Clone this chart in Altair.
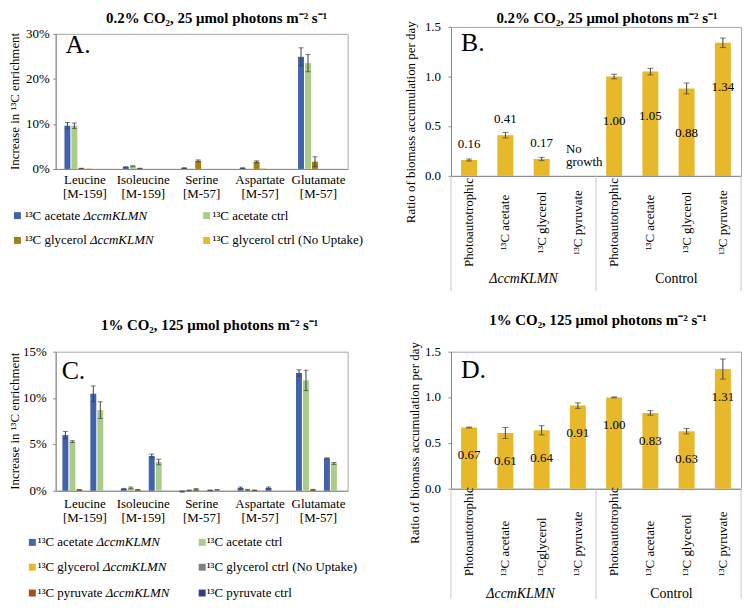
import altair as alt
import pandas as pd

FONT = "Liberation Serif"
FRAME = "#a6a6a6"
AXIS_GRAY = "#8a8a8a"
ERR = "#404040"
SEP = "#c8c8c8"
GOLD = "#e8b82b"

# ---------------- data ----------------
title_low_co2 = "0.2% CO₂, 25 μmol photons m⁻² s⁻¹"
title_high_co2 = "1% CO₂, 125 μmol photons m⁻² s⁻¹"

amino_acids = ["Leucine", "Isoleucine", "Serine", "Aspartate", "Glutamate"]
fragments = ["[M-159]", "[M-159]", "[M-57]", "[M-57]", "[M-57]"]

# Panel A: increase in 13C enrichment (%)
series_A = ["¹³C acetate ΔccmKLMN", "¹³C acetate ctrl", "¹³C glycerol ΔccmKLMN", "¹³C glycerol ctrl"]
colors_A = ["#4263ab", "#a9cd86", "#a48014", "#e9b92c"]
A_acetate_mut = [9.6, 0.4, 0.2, 0.2, 24.9]
A_acetate_mut_err = [0.7, 0.1, 0.05, 0.05, 2.0]
A_acetate_ctrl = [9.6, 0.6, 0.05, 0.05, 23.5]
A_acetate_ctrl_err = [0.6, 0.1, 0.0, 0.0, 1.9]
A_glycerol_mut = [0.1, 0.1, 1.8, 1.6, 1.6]
A_glycerol_mut_err = [0.05, 0.05, 0.2, 0.2, 1.1]
A_glycerol_ctrl = [0.1, 0.0, 0.0, 0.1, 0.0]
A_glycerol_ctrl_err = [0.0, 0.0, 0.0, 0.0, 0.0]

# Panel C: increase in 13C enrichment (%)
series_C = ["¹³C acetate ΔccmKLMN", "¹³C acetate ctrl", "¹³C glycerol ΔccmKLMN",
            "¹³C glycerol ctrl", "¹³C pyruvate ΔccmKLMN", "¹³C pyruvate ctrl"]
colors_C = ["#4466ae", "#a9cd86", "#e9b92c", "#808080", "#a64d1a", "#2f3e8c"]
C_acetate_mut = [6.0, 0.2, -0.1, 0.3, 12.7]
C_acetate_mut_err = [0.4, 0.05, 0.05, 0.1, 0.35]
C_acetate_ctrl = [5.3, 0.3, 0.05, 0.1, 11.9]
C_acetate_ctrl_err = [0.1, 0.1, 0.03, 0.05, 1.1]
C_glycerol_mut = [0.1, 0.1, 0.15, 0.05, 0.1]
C_glycerol_mut_err = [0.03, 0.03, 0.08, 0.03, 0.05]
C_glycerol_ctrl = [0.0, 0.0, 0.0, 0.0, 0.0]
C_glycerol_ctrl_err = [0.0, 0.0, 0.0, 0.0, 0.0]
C_pyruvate_mut = [10.45, 3.75, 0.05, 0.3, 3.5]
C_pyruvate_mut_err = [0.85, 0.2, 0.03, 0.1, 0.05]
C_pyruvate_ctrl = [8.7, 3.1, 0.1, 0.0, 2.95]
C_pyruvate_ctrl_err = [0.9, 0.3, 0.03, 0.0, 0.1]

legend_notes = {"¹³C glycerol ctrl": "   (No Uptake)"}
enrichment_title = "Increase in ¹³C enrichment"

# Panels B and D: ratio of biomass accumulation per day
strains = ["ΔccmKLMN", "Control"]
conditions_B = ["Photoautotrophic", "¹³C acetate", "¹³C glycerol", "¹³C pyruvate"]
conditions_D = ["Photoautotrophic", "¹³C acetate", "¹³Cglycerol", "¹³C pyruvate"]
conditions_ctrl = ["Photoautotrophic", "¹³C acetate", "¹³C glycerol", "¹³C pyruvate"]
B_ratio = [0.16, 0.41, 0.17, None, 1.00, 1.05, 0.88, 1.34]
B_err = [0.01, 0.028, 0.017, None, 0.023, 0.033, 0.055, 0.048]
D_ratio = [0.67, 0.61, 0.64, 0.91, 1.00, 0.83, 0.63, 1.31]
D_err = [0.005, 0.06, 0.05, 0.03, 0.005, 0.025, 0.03, 0.11]
no_growth_note = "No\ngrowth"
ratio_title = "Ratio of biomass accumulation per day"
ratio_ticks = [0.0, 0.5, 1.0, 1.5]

# ---------------- helpers ----------------
TIMES_W = {" ": 250, "a": 444, "c": 444, "e": 444, "t": 278, "g": 500, "l": 278,
           "y": 500, "r": 333, "o": 500, "p": 500, "u": 500, "v": 500, "C": 667,
           "¹": 300, "³": 300}


def text_w(s, size):
    return sum(TIMES_W.get(ch, 500) for ch in s) * size / 1000.0


def one_text(t):
    return pd.DataFrame({"t": [t]})


def txt(**kw):
    base = dict(font=FONT, fontSize=13, color="black")
    base.update(kw)
    return base


def legend_layers(series, colors, sq_x, txt_x, rows_y, size=13):
    layers = []
    for i, (s, col) in enumerate(zip(series, colors)):
        r, c = divmod(i, 2)
        plain, _, ital = s.partition("Δ")
        if ital:
            ital = "Δ" + ital
        else:
            plain = plain + legend_notes.get(s, "")
        y = rows_y[r]
        layers.append(alt.Chart(one_text(plain)).mark_square(size=49, opacity=1, color=col).encode(
            x=alt.value(sq_x[c]), y=alt.value(y)))
        layers.append(alt.Chart(one_text(plain)).mark_text(
            **txt(fontSize=size, align="left", baseline="middle")).encode(
            text="t:N", x=alt.value(txt_x[c]), y=alt.value(y)))
        if ital:
            layers.append(alt.Chart(one_text(ital)).mark_text(
                **txt(fontSize=size, align="left", baseline="middle", fontStyle="italic")).encode(
                text="t:N", x=alt.value(txt_x[c] + text_w(plain, size)), y=alt.value(y)))
    return layers


def letter_layer(letter, lx, ly):
    return alt.Chart(one_text(letter)).mark_text(
        **txt(fontSize=26, align="left", baseline="alphabetic")
    ).encode(text="t:N", x=alt.value(lx), y=alt.value(ly))


def y_title_layer(text, tx, ty):
    return alt.Chart(one_text(text)).mark_text(
        **txt(angle=270, align="center", baseline="middle")
    ).encode(text="t:N", x=alt.value(tx), y=alt.value(ty))


def make_title(text, offset, dx):
    return alt.TitleParams(text=text, font=FONT, fontSize=15, fontWeight="bold", anchor="middle",
                           frame="group", offset=offset, dx=dx, color="black")


def enrichment_panel(series, colors, values, errors, W, H, ymax, ystep, letter, letter_xy,
                     title, title_offset, title_dx, x_pad, sub_pad, x_label_y, y_title_x,
                     y_label_x, sq_x, txt_x, rows_y):
    cats = [f"{a}|{f}" for a, f in zip(amino_acids, fragments)]
    recs = []
    for s, vals, errs in zip(series, values, errors):
        for c, v, e in zip(cats, vals, errs):
            recs.append({"cat": c, "series": s, "value": v, "err": e, "lo": v - e, "hi": v + e})
    df = pd.DataFrame(recs)
    err_df = df[df["err"] > 0]
    cap_df = pd.concat([
        err_df[["cat", "series"]].assign(cap=err_df["lo"]),
        err_df[["cat", "series"]].assign(cap=err_df["hi"]),
    ])
    ticks = list(range(0, ymax + 1, ystep))
    tick_df = pd.DataFrame({"v": ticks, "t": [f"{t}%" for t in ticks]})
    cat_df = pd.DataFrame({"cat": cats})

    x_scale = alt.Scale(domain=cats, paddingInner=x_pad[0], paddingOuter=x_pad[1])
    x_axis = alt.Axis(title=None, labels=False, ticks=False)
    xo = alt.XOffset("series:N", scale=alt.Scale(domain=series, paddingInner=sub_pad))
    y_scale = alt.Scale(domain=[0, ymax], nice=False)
    y_axis = alt.Axis(title=None, labels=False, values=ticks, tickSize=3)

    def X():
        return alt.X("cat:N", scale=x_scale, axis=x_axis)

    def Y(field):
        return alt.Y(field, scale=y_scale, axis=y_axis)

    bars = alt.Chart(df).mark_bar().encode(
        x=X(), xOffset=xo, y=Y("value:Q"),
        color=alt.Color("series:N", scale=alt.Scale(domain=series, range=colors), legend=None),
    )
    rules = alt.Chart(err_df).mark_rule(color=ERR, strokeWidth=1).encode(
        x=X(), xOffset=xo, y=Y("lo:Q"), y2="hi:Q")
    caps = alt.Chart(cap_df).mark_tick(color=ERR, thickness=1, size=5).encode(
        x=X(), xOffset=xo, y=Y("cap:Q"))
    ylabels = alt.Chart(tick_df).mark_text(**txt(align="right", baseline="middle")).encode(
        y=Y("v:Q"), x=alt.value(y_label_x), text="t:N")
    xlabels = alt.Chart(cat_df).mark_text(
        **txt(align="center", baseline="top", lineBreak="|", lineHeight=14)).encode(
        x=X(), y=alt.value(H + x_label_y), text="cat:N")
    layers = [bars, rules, caps, ylabels, xlabels,
              y_title_layer(enrichment_title, y_title_x, H / 2),
              letter_layer(letter, *letter_xy)]
    layers += legend_layers(series, colors, sq_x, txt_x, rows_y)
    return alt.layer(*layers).properties(width=W, height=H,
                                         title=make_title(title, title_offset, title_dx))


def ratio_panel(values, errors, conds, W, H, letter, letter_xy, title, title_offset, title_dx,
                label_align, label_y, y_title_x, y_title_y, dy_mut, dy_ctrl, group_y, sep_len,
                group_dx=(0, 0), note=None):
    n = len(values)
    idx = list(range(n))
    labels = list(conds) + list(conditions_ctrl)
    df = pd.DataFrame({"idx": idx, "value": values, "err": errors,
                       "strain": [strains[0]] * 4 + [strains[1]] * 4})
    df = df.dropna(subset=["value"]).copy()
    df["lo"] = df["value"] - df["err"]
    df["hi"] = df["value"] + df["err"]
    df["label"] = df["value"].map(lambda v: f"{v:.2f}")
    cap_df = pd.concat([df[["idx"]].assign(cap=df["lo"]), df[["idx"]].assign(cap=df["hi"])])
    tick_df = pd.DataFrame({"v": ratio_ticks, "t": [f"{t:.1f}" for t in ratio_ticks]})
    cond_df = pd.DataFrame({"idx": idx, "t": labels})

    x_scale = alt.Scale(domain=idx, paddingInner=0.56, paddingOuter=0.28)
    x_axis = alt.Axis(title=None, labels=False, ticks=False)
    y_scale = alt.Scale(domain=[0, 1.5], nice=False)
    y_axis = alt.Axis(title=None, labels=False, values=ratio_ticks, tickSize=3)

    def X():
        return alt.X("idx:O", scale=x_scale, axis=x_axis)

    def Y(field):
        return alt.Y(field, scale=y_scale, axis=y_axis)

    bars = alt.Chart(df).mark_bar(color=GOLD).encode(x=X(), y=Y("value:Q"))
    rules = alt.Chart(df).mark_rule(color=ERR, strokeWidth=1).encode(
        x=X(), y=Y("lo:Q"), y2="hi:Q")
    caps = alt.Chart(cap_df).mark_tick(color=ERR, thickness=1, size=6).encode(
        x=X(), y=Y("cap:Q"))
    lab_mut = alt.Chart(df[df["strain"] == strains[0]]).mark_text(
        **txt(baseline="middle", dy=dy_mut)).encode(x=X(), y=Y("value:Q"), text="label:N")
    lab_ctrl = alt.Chart(df[df["strain"] == strains[1]]).mark_text(
        **txt(baseline="middle", dy=dy_ctrl)).encode(x=X(), y=Y("value:Q"), text="label:N")
    ylabels = alt.Chart(tick_df).mark_text(**txt(align="right", baseline="middle")).encode(
        y=Y("v:Q"), x=alt.value(-10), text="t:N")
    xlabels = alt.Chart(cond_df).mark_text(
        **txt(angle=270, align=label_align, baseline="middle")).encode(
        x=X(), y=alt.value(H + label_y), text="t:N")
    layers = [bars, rules, caps, lab_mut, lab_ctrl, ylabels, xlabels,
              y_title_layer(ratio_title, y_title_x, y_title_y)]
    for sx in (0, W / 2, W):
        layers.append(alt.Chart(one_text("")).mark_rule(color=SEP, strokeWidth=1).encode(
            x=alt.value(sx), y=alt.value(H), y2=alt.value(H + sep_len)))
    layers.append(alt.Chart(one_text(strains[0])).mark_text(
        **txt(fontSize=14, fontStyle="italic", baseline="middle")).encode(
        text="t:N", x=alt.value(W / 4 + group_dx[0]), y=alt.value(H + group_y)))
    layers.append(alt.Chart(one_text(strains[1])).mark_text(
        **txt(fontSize=14, baseline="middle")).encode(
        text="t:N", x=alt.value(3 * W / 4 + group_dx[1]), y=alt.value(H + group_y)))
    layers.append(letter_layer(letter, *letter_xy))
    if note:
        ndf = pd.DataFrame({"idx": [values.index(None)], "v": [0.0], "t": [note]})
        layers.append(alt.Chart(ndf).mark_text(
            **txt(align="left", baseline="bottom", dx=-12, dy=-20, lineBreak="\n",
                  lineHeight=13)).encode(x=X(), y=Y("v:Q"), text="t:N"))
    return alt.layer(*layers).properties(width=W, height=H,
                                         title=make_title(title, title_offset, title_dx))


# ---------------- panels ----------------
panel_A = enrichment_panel(
    series_A, colors_A,
    [A_acetate_mut, A_acetate_ctrl, A_glycerol_mut, A_glycerol_ctrl],
    [A_acetate_mut_err, A_acetate_ctrl_err, A_glycerol_mut_err, A_glycerol_ctrl_err],
    W=294, H=136, ymax=30, ystep=10, letter="A.", letter_xy=(10, 19),
    title=title_low_co2, title_offset=2, title_dx=15, x_pad=(0.3, 0.15), sub_pad=0.15,
    x_label_y=5, y_title_x=-41, y_label_x=-6,
    sq_x=(-38.5, 152), txt_x=(-31, 158), rows_y=(136 + 47, 136 + 72))

panel_C = enrichment_panel(
    series_C, colors_C,
    [C_acetate_mut, C_acetate_ctrl, C_glycerol_mut, C_glycerol_ctrl, C_pyruvate_mut, C_pyruvate_ctrl],
    [C_acetate_mut_err, C_acetate_ctrl_err, C_glycerol_mut_err, C_glycerol_ctrl_err,
     C_pyruvate_mut_err, C_pyruvate_ctrl_err],
    W=294, H=140, ymax=15, ystep=5, letter="C.", letter_xy=(6, 27),
    title=title_high_co2, title_offset=13, title_dx=8, x_pad=(0.23, 0.115), sub_pad=0.2,
    x_label_y=7, y_title_x=-41, y_label_x=-9,
    sq_x=(-23.5, 147.5), txt_x=(-18, 152), rows_y=(140 + 52, 140 + 77, 140 + 103))

panel_B = ratio_panel(
    B_ratio, B_err, conditions_B, W=292, H=150, letter="B.", letter_xy=(10, 24),
    title=title_low_co2, title_offset=-5, title_dx=11, label_align="center", label_y=47,
    y_title_x=-40, y_title_y=96, dy_mut=-16, dy_ctrl=45, group_y=104, sep_len=116,
    group_dx=(0, 8), note=no_growth_note)

panel_D = ratio_panel(
    D_ratio, D_err, conditions_D, W=292, H=138, letter="D.", letter_xy=(10, 26),
    title=title_high_co2, title_offset=14, title_dx=2, label_align="left", label_y=88,
    y_title_x=-36, y_title_y=92, dy_mut=28, dy_ctrl=28, group_y=106, sep_len=111,
    group_dx=(-3, 3))

chart = alt.concat(
    panel_A, panel_B, panel_C, panel_D, columns=2,
    spacing={"row": 177, "column": 104}, bounds="flush", center=True, align="each",
).properties(
    padding={"left": 0, "top": 0, "right": 0, "bottom": 0}
).configure_view(
    stroke=FRAME, strokeWidth=1
).configure_axis(
    grid=False, domainColor=AXIS_GRAY, tickColor=AXIS_GRAY
)

chart.save("out.html", embed_options={"renderer": "svg", "actions": False})
